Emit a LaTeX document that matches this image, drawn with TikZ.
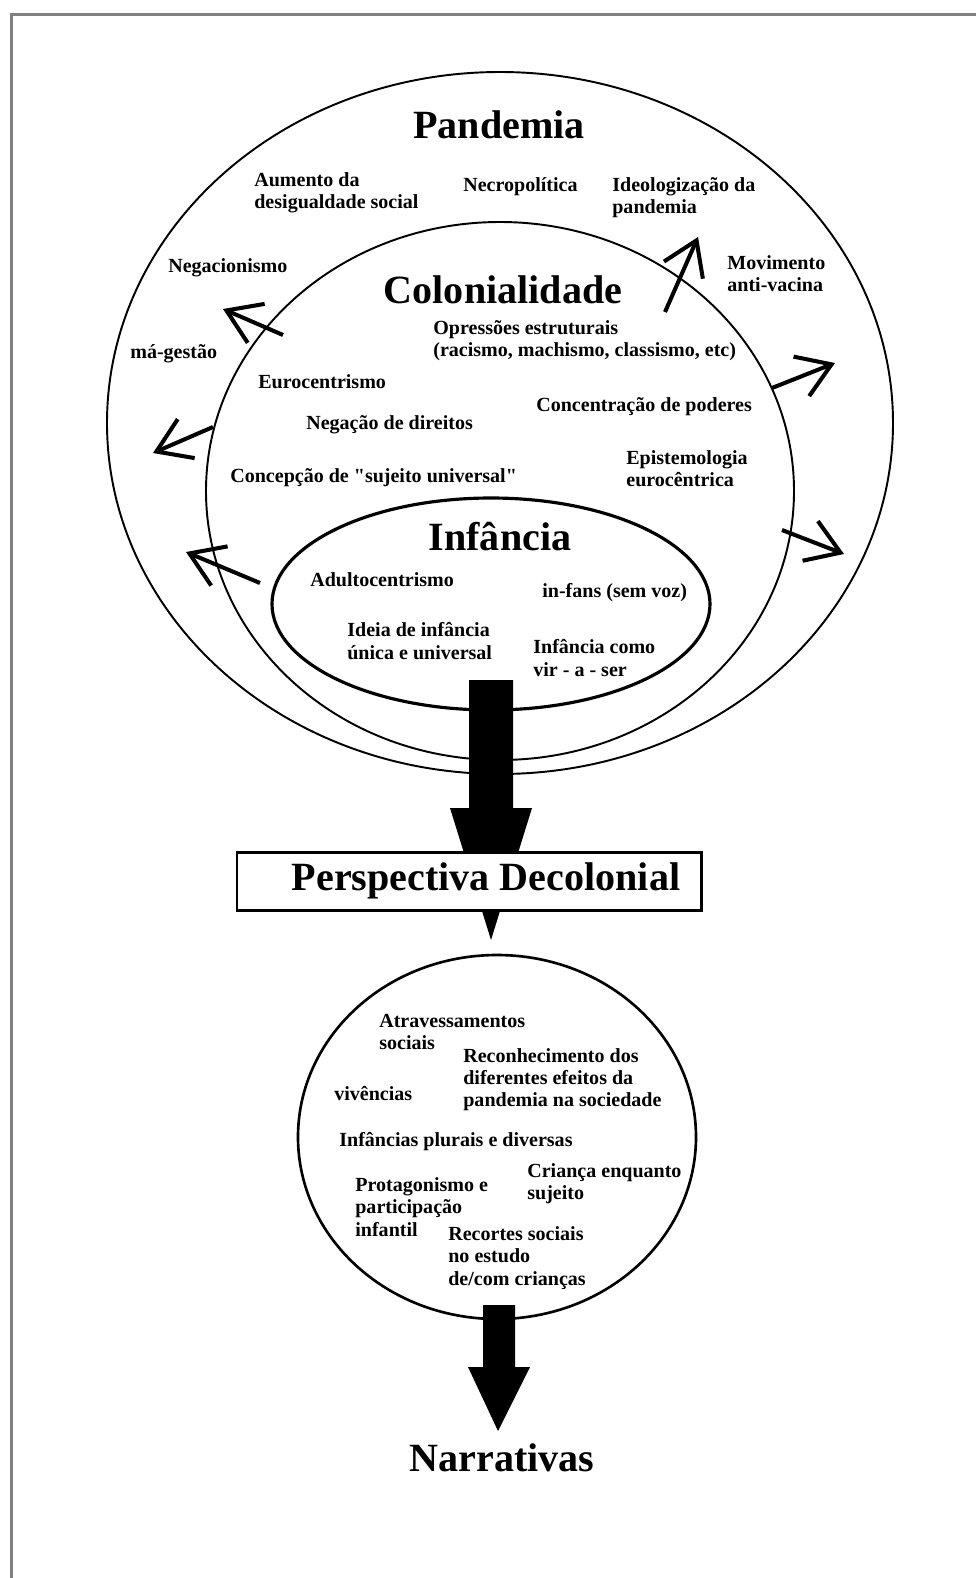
\documentclass[tikz,border=0pt]{standalone}
\usepackage{fontspec}
\setmainfont{Liberation Serif}
\usetikzlibrary{arrows.meta}

\tikzset{
  lbl/.style={font=\fontsize{11.4}{12.6}\selectfont\bfseries, align=left, anchor=west, inner sep=0pt},
  titl/.style={font=\fontsize{22.8}{26}\selectfont\bfseries, inner sep=0pt},
  outarrow/.style={line width=2.3pt, -{Straight Barb[length=6.5mm, width=8.5mm, line width=2.3pt]}},
}

\begin{document}
\begin{tikzpicture}[x=0.2mm, y=-0.2mm]
\useasboundingbox (0,0) rectangle (976,1578);
\draw[black!50, line width=0.6mm] (11,1578) -- (11,14) -- (976,14);

% the three rings
\coordinate (pan) at (500,423);
\coordinate (col) at (500,491);
\coordinate (inf) at (491,604);
\draw[line width=1.1pt] (pan) ellipse [x radius=393, y radius=351];
\draw[line width=1.1pt] (col) ellipse [x radius=294, y radius=269];
\draw[line width=1.8pt] (inf) ellipse [x radius=219, y radius=106];

\node[titl] (pandemia) at (499,125) {Pandemia};
\node[titl] (colonial) at (503,290) {Colonialidade};
\node[titl] (infancia) at (500,537) {Infância};

\node[lbl] (aumento) at (254,193) {Aumento da\\desigualdade social};
\node[lbl] (necro) at (463,187) {Necropolítica};
\node[lbl] (ideol) at (612,198) {Ideologização da\\pandemia};
\node[lbl] (negac) at (168,268) {Negacionismo};
\node[lbl] (movim) at (727,274) {Movimento\\anti-vacina};
\node[lbl] (magest) at (130,354) {má-gestão};
\node[lbl] (opres) at (433,341) {Opressões estruturais\\(racismo, machismo, classismo, etc)};
\node[lbl] (euroc) at (258,382) {Eurocentrismo};
\node[lbl] (concen) at (536,407) {Concentração de poderes};
\node[lbl] (negdir) at (306,425) {Negação de direitos};
\node[lbl] (epist) at (626,469) {Epistemologia\\eurocêntrica};
\node[lbl] (concep) at (230,478) {Concepção de \textquotedbl sujeito universal\textquotedbl};
\node[lbl] (adulto) at (310,580) {Adultocentrismo};
\node[lbl] (infans) at (542,593) {in-fans (sem voz)};
\node[lbl] (ideia) at (347,641) {Ideia de infância\\única e universal};
\node[lbl] (vir) at (533,658) {Infância como\\vir - a - ser};

% arrows out of the rings
\coordinate (o1) at (283,335); \coordinate (t1) at (223,309);
\coordinate (o2) at (213,427); \coordinate (t2) at (153,453);
\coordinate (o3) at (260,583); \coordinate (t3) at (186,552);
\coordinate (o4) at (665,312); \coordinate (t4) at (698,237);
\coordinate (o5) at (772,388); \coordinate (t5) at (835,363);
\coordinate (o6) at (782,530); \coordinate (t6) at (844,554);
\foreach \i in {1,...,6}
  \draw[outarrow] (o\i) -- (t\i);

% big arrow down to the box
\coordinate (infout) at (491,680);
\coordinate (perspin) at (491,940);
\fill (infout) ++(-22,0) -- ++(44,0) -- ++(0,128) -- ++(19,0) -- (perspin)
  -- ++(-41,-132) -- ++(19,0) -- cycle;
\draw[fill=white, line width=1.7pt] (237,852) rectangle (701,910);
\node[titl] (persp) at (486,881) {Perspectiva Decolonial};

% lower circle
\coordinate (dec) at (497,1137);
\draw[line width=1.5pt] (dec) ellipse [x radius=199, y radius=182];
\node[lbl] (atrav) at (379,1032) {Atravessamentos\\sociais};
\node[lbl] (recon) at (463,1080) {Reconhecimento dos\\diferentes efeitos da\\pandemia na sociedade};
\node[lbl] (viven) at (334,1094) {vivências};
\node[lbl] (plurais) at (339,1142) {Infâncias plurais e diversas};
\node[lbl] (crianca) at (527,1184) {Criança enquanto\\sujeito};
\node[lbl] (protag) at (355,1207) {Protagonismo e\\participação\\infantil};
\node[lbl] (recort) at (448,1258) {Recortes sociais\\no estudo\\de/com crianças};

\coordinate (decout) at (499,1305);
\coordinate (narrin) at (498,1431);
\fill (decout) ++(-16,0) -- ++(32,0) -- ++(0,62) -- ++(15,0) -- (narrin)
  -- ++(-30,-64) -- ++(15,0) -- cycle;
\node[titl] (narr) at (502,1458) {Narrativas};
\end{tikzpicture}
\end{document}
